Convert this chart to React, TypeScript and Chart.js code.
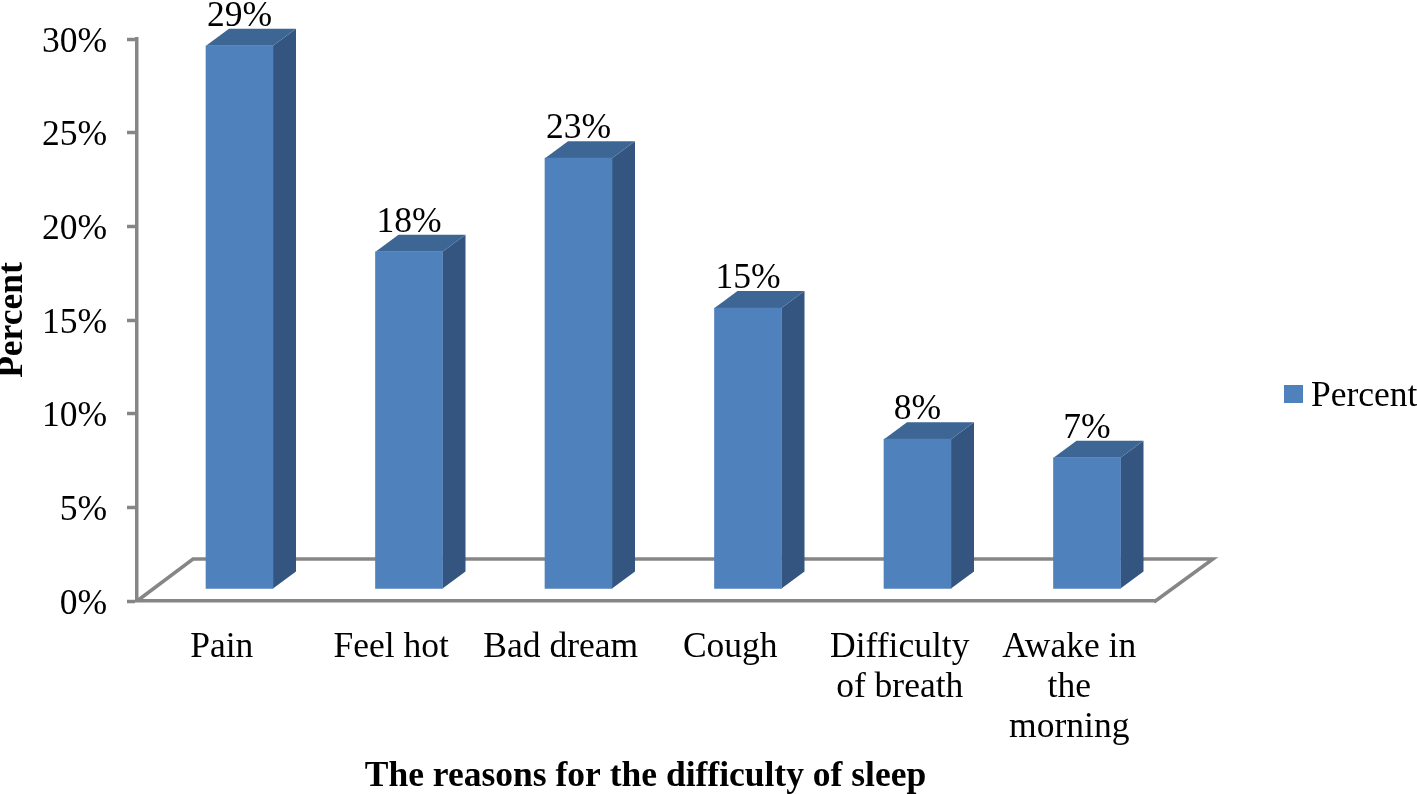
import React, { useEffect, useRef } from "react";
import { Chart, registerables } from "chart.js";

Chart.register(...registerables);

const categories = [
  "Pain",
  "Feel hot",
  "Bad dream",
  "Cough",
  ["Difficulty", "of breath"],
  ["Awake in", "the", "morning"],
];
const percentValues = [29, 18, 23, 15, 8, 7];
const yTicks = { min: 0, max: 30, step: 5 };
const seriesName = "Percent";
const xTitle = "The reasons for the difficulty of sleep";
const yTitle = "Percent";

const FONT = "'Liberation Serif', 'Times New Roman', serif";
const FONT_SIZE = 35.5;
const GREY = "#868686";
const LINE = 3.5;
const FRONT = "#4F81BD";
const SIDE = "#34557F";
const TOP = "#3E6695";
const BAR_SHIFT = { x: 17.75, y: -12 };
const BAR_DEPTH = { x: 23, y: -17 };
const FLOOR_DEPTH = { x: 56, y: -42 };
const Y_LABEL_SHIFT = 3.5;

const box3d = {
  id: "box3d",
  afterLayout(chart: any) {
    chart.scales.y.getLabelItems(chart.chartArea).forEach((item: any) => {
      item.options.translation[1] += Y_LABEL_SHIFT;
    });
  },
  beforeDatasetsDraw(chart: any) {
    const { ctx, chartArea: a } = chart;
    ctx.save();
    ctx.strokeStyle = GREY;
    ctx.lineWidth = LINE;
    ctx.lineJoin = "miter";
    ctx.beginPath();
    ctx.moveTo(a.left, a.bottom);
    ctx.lineTo(a.left + FLOOR_DEPTH.x, a.bottom + FLOOR_DEPTH.y);
    ctx.lineTo(a.right + FLOOR_DEPTH.x + 3, a.bottom + FLOOR_DEPTH.y);
    ctx.lineTo(a.right, a.bottom + 1);
    ctx.stroke();
    ctx.restore();

    ctx.save();
    ctx.translate(BAR_SHIFT.x, BAR_SHIFT.y);
    chart.getDatasetMeta(0).data.forEach((bar: any) => {
      const p = bar.getProps(["x", "y", "base", "width"], true);
      const l = p.x - p.width / 2;
      const r = p.x + p.width / 2;
      ctx.fillStyle = SIDE;
      ctx.beginPath();
      ctx.moveTo(r, p.y);
      ctx.lineTo(r + BAR_DEPTH.x, p.y + BAR_DEPTH.y);
      ctx.lineTo(r + BAR_DEPTH.x, p.base + BAR_DEPTH.y);
      ctx.lineTo(r, p.base);
      ctx.closePath();
      ctx.fill();
      ctx.fillStyle = TOP;
      ctx.beginPath();
      ctx.moveTo(l, p.y);
      ctx.lineTo(l + BAR_DEPTH.x, p.y + BAR_DEPTH.y);
      ctx.lineTo(r + BAR_DEPTH.x, p.y + BAR_DEPTH.y);
      ctx.lineTo(r, p.y);
      ctx.closePath();
      ctx.fill();
    });
  },
  afterDatasetsDraw(chart: any) {
    const { ctx } = chart;
    ctx.restore();
    ctx.save();
    ctx.fillStyle = "#000";
    ctx.font = `${FONT_SIZE}px ${FONT}`;
    ctx.textAlign = "center";
    ctx.textBaseline = "alphabetic";
    chart.getDatasetMeta(0).data.forEach((bar: any, i: number) => {
      const p = bar.getProps(["x", "y"], true);
      ctx.fillText(
        `${percentValues[i]}%`,
        p.x + BAR_SHIFT.x,
        p.y + BAR_SHIFT.y + BAR_DEPTH.y - 3
      );
    });
    // legend
    ctx.fillStyle = FRONT;
    ctx.fillRect(1284, 385, 19, 18);
    ctx.fillStyle = "#000";
    ctx.textAlign = "left";
    ctx.fillText(chart.data.datasets[0].label, 1311, 406);
    ctx.restore();
  },
};

export default function App() {
  const ref = useRef<HTMLCanvasElement>(null);
  useEffect(() => {
    const chart = new Chart(ref.current as HTMLCanvasElement, {
      type: "bar",
      data: {
        labels: categories as any,
        datasets: [
          {
            label: seriesName,
            data: percentValues,
            backgroundColor: FRONT,
            barThickness: 67,
            clip: false as any,
          },
        ],
      },
      plugins: [box3d],
      options: {
        animation: false,
        responsive: false,
        layout: { padding: { left: 0, right: 263, top: 39, bottom: 0 } },
        plugins: {
          legend: { display: false },
          tooltip: { enabled: false },
        },
        scales: {
          x: {
            afterFit(s: any) {
              s.height = 193;
              s.paddingLeft = 0;
              s.paddingRight = 0;
            },
            grid: { display: true, drawOnChartArea: false, drawTicks: false },
            border: { display: true, color: GREY, width: LINE },
            ticks: {
              color: "#000",
              padding: 27,
              maxRotation: 0,
              autoSkip: false,
              font: { family: FONT, size: FONT_SIZE, lineHeight: 40 / FONT_SIZE },
            },
            title: {
              display: true,
              text: xTitle,
              color: "#000",
              padding: 0,
              font: { family: FONT, size: FONT_SIZE, weight: "bold", lineHeight: 0.95 },
            },
          },
          y: {
            min: yTicks.min,
            max: yTicks.max,
            afterFit(s: any) {
              s.width = 137;
              s.paddingTop = 0;
              s.paddingBottom = 0;
            },
            grid: {
              drawOnChartArea: false,
              drawTicks: true,
              tickLength: 10,
              tickColor: GREY,
              tickWidth: LINE,
            },
            border: { display: true, color: GREY, width: LINE },
            ticks: {
              stepSize: yTicks.step,
              color: "#000",
              padding: 20,
              font: { family: FONT, size: FONT_SIZE },
              callback: (v: any) => `${v}%`,
            },
            title: {
              display: true,
              text: yTitle,
              color: "#000",
              padding: 0,
              font: { family: FONT, size: FONT_SIZE, weight: "bold", lineHeight: 0.75 },
            },
          },
        },
      },
    });
    return () => chart.destroy();
  }, []);
  return (
    <div style={{ position: "absolute", left: 0, top: 0, width: 1417, height: 794, overflow: "hidden" }}>
      <canvas ref={ref} width={1417} height={794} style={{ display: "block" }} />
    </div>
  );
}
